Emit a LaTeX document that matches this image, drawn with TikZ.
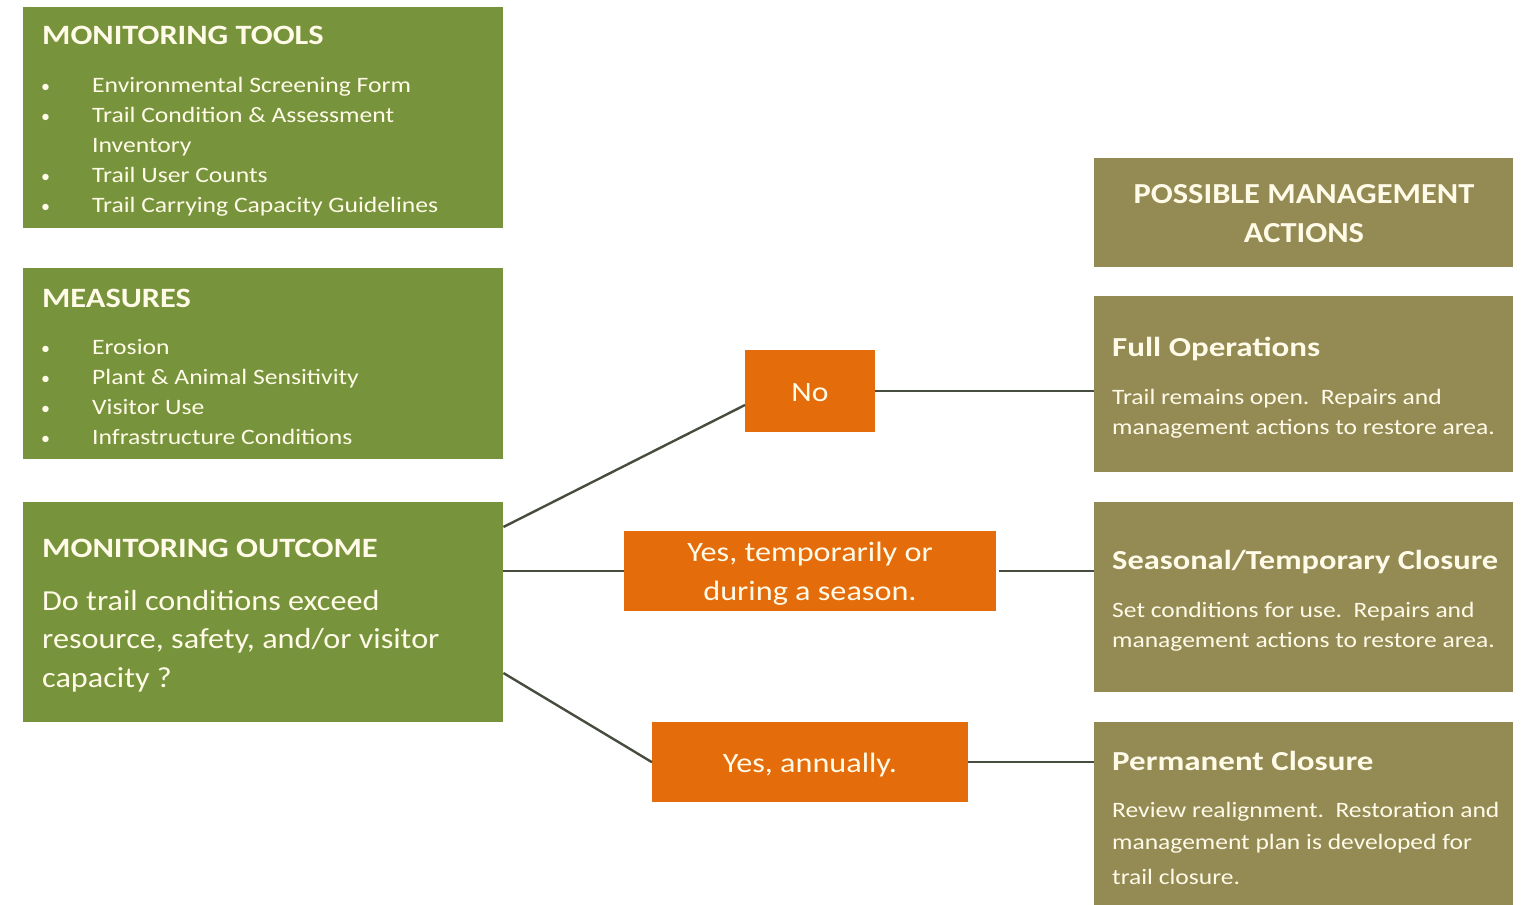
\documentclass[tikz,border=0pt]{standalone}
\usepackage{fontspec}
\setmainfont{Carlito}
\usetikzlibrary{calc}
\definecolor{mgreen}{HTML}{77933C}
\definecolor{mtan}{HTML}{948A54}
\definecolor{morange}{HTML}{E46C0A}
\definecolor{mline}{HTML}{474D3E}
\definecolor{mtext}{HTML}{FFFBE8}
\newcommand\fsz[1]{\fontsize{#1}{#1}\selectfont}
\newcommand\sx[2]{\scalebox{#1}[1]{#2}}
\newcommand\bul{\makebox[52pt][l]{\hspace{1pt}\fsz{18}•}}
\begin{document}
\begin{tikzpicture}[x=1pt,y=-1pt,
  gbox/.style={fill=mgreen, draw=none, inner sep=0pt, anchor=north west},
  tbox/.style={fill=mtan, draw=none, inner sep=0pt, anchor=north west},
  obox/.style={fill=morange, draw=none, inner sep=0pt, anchor=north west},
  txt/.style={text=mtext, inner sep=0pt, anchor=base west},
  ctxt/.style={text=mtext, inner sep=0pt, anchor=base},
  conn/.style={draw=mline, line width=2.4pt}]
\useasboundingbox (0,0) rectangle (1535,905);
% left boxes
\node[gbox, minimum width=480pt, minimum height=221pt] (mt) at (23,7) {};
\node[gbox, minimum width=480pt, minimum height=191pt] (ms) at (23,268) {};
\node[gbox, minimum width=480pt, minimum height=220pt] (oc) at (23,502) {};
% right boxes
\node[tbox, minimum width=419pt, minimum height=109pt] (pm) at (1094,158) {};
\node[tbox, minimum width=419pt, minimum height=176pt] (fo) at (1094,296) {};
\node[tbox, minimum width=419pt, minimum height=190pt] (st) at (1094,502) {};
\node[tbox, minimum width=419pt, minimum height=183pt] (pc) at (1094,722) {};
% orange boxes
\node[obox, minimum width=130pt, minimum height=82pt] (no) at (745,350) {};
\node[obox, minimum width=372pt, minimum height=80pt] (yt) at (624,531) {};
\node[obox, minimum width=316pt, minimum height=80pt] (ya) at (652,722) {};
% connectors
\draw[conn] ([yshift=-25pt]oc.north east) -- ([yshift=-55pt]no.north west);
\draw[conn] (yt.west -| oc.east) -- (yt.west);
\draw[conn] ([yshift=-171pt]oc.north east) -- (ya.west);
\draw[conn] (no.east) -- (no.east -| fo.west);
\draw[conn, shorten <=3pt] (yt.east) -- (yt.east -| st.west);
\draw[conn] (ya.east) -- (ya.east -| pc.west);
% monitoring tools text
\node[txt] (mtT) at (42,44) {\sx{1.157}{\fsz{28}\bfseries MONITORING TOOLS}};
\node[txt] (mt1) at (40,92) {\bul\sx{1.165}{\fsz{22}Environmental Screening Form}};
\node[txt] (mt2) at (40,122) {\bul\sx{1.165}{\fsz{22}Trail Condition \& Assessment}};
\node[txt] (mt3) at (40,152) {\makebox[52pt][l]{}\sx{1.165}{\fsz{22}Inventory}};
\node[txt] (mt4) at (40,182) {\bul\sx{1.165}{\fsz{22}Trail User Counts}};
\node[txt] (mt5) at (40,212) {\bul\sx{1.165}{\fsz{22}Trail Carrying Capacity Guidelines}};
% measures text
\node[txt] (msT) at (42,307) {\sx{1.156}{\fsz{28}\bfseries MEASURES}};
\node[txt] (ms1) at (40,354) {\bul\sx{1.165}{\fsz{22}Erosion}};
\node[txt] (ms2) at (40,384) {\bul\sx{1.165}{\fsz{22}Plant \& Animal Sensitivity}};
\node[txt] (ms3) at (40,414) {\bul\sx{1.165}{\fsz{22}Visitor Use}};
\node[txt] (ms4) at (40,444) {\bul\sx{1.165}{\fsz{22}Infrastructure Conditions}};
% outcome text
\node[txt] (ocT) at (42,557) {\sx{1.16}{\fsz{28}\bfseries MONITORING OUTCOME}};
\node[txt] (oc1) at (42,610) {\sx{1.11}{\fsz{29}Do trail conditions exceed}};
\node[txt] (oc2) at (42,648) {\sx{1.11}{\fsz{29}resource, safety, and/or visitor}};
\node[txt] (oc3) at (42,687) {\sx{1.11}{\fsz{29}capacity ?}};
% orange texts
\node[ctxt] (noT) at (810,401) {\sx{1.13}{\fsz{28}No}};
\node[ctxt] (yt1) at (810,561) {\sx{1.15}{\fsz{28}Yes, temporarily or}};
\node[ctxt] (yt2) at (810,600) {\sx{1.15}{\fsz{28}during a season.}};
\node[ctxt] (yaT) at (810,772) {\sx{1.15}{\fsz{28}Yes, annually.}};
% right texts
\node[ctxt] (pm1) at (1304,203) {\sx{1.12}{\fsz{29}\bfseries POSSIBLE MANAGEMENT}};
\node[ctxt] (pm2) at (1304,242) {\sx{1.12}{\fsz{29}\bfseries ACTIONS}};
\node[txt] (foT) at (1112,356) {\sx{1.2}{\fsz{27.5}\bfseries Full Operations}};
\node[txt] (fo1) at (1112,404) {\sx{1.16}{\fsz{22}Trail remains open.\ \ Repairs and}};
\node[txt] (fo2) at (1112,434) {\sx{1.16}{\fsz{22}management actions to restore area.}};
\node[txt] (stT) at (1112,569) {\sx{1.18}{\fsz{27.5}\bfseries Seasonal/Temporary Closure}};
\node[txt] (st1) at (1112,617) {\sx{1.16}{\fsz{22}Set conditions for use.\ \ Repairs and}};
\node[txt] (st2) at (1112,647) {\sx{1.16}{\fsz{22}management actions to restore area.}};
\node[txt] (pcT) at (1112,770) {\sx{1.2}{\fsz{27.5}\bfseries Permanent Closure}};
\node[txt] (pc1) at (1112,817) {\sx{1.16}{\fsz{22}Review realignment.\ \ Restoration and}};
\node[txt] (pc2) at (1112,849) {\sx{1.16}{\fsz{22}management plan is developed for}};
\node[txt] (pc3) at (1112,884) {\sx{1.16}{\fsz{22}trail closure.}};
\end{tikzpicture}
\end{document}
